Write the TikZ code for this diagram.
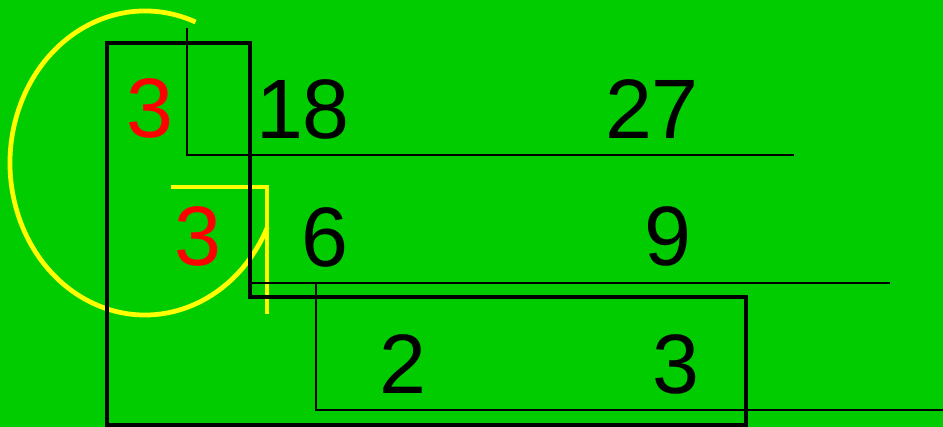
\documentclass[tikz,border=0pt]{standalone}
\usepackage{fontspec}
\setmainfont{Liberation Sans}
\usepackage{tikz}

\definecolor{boardgreen}{HTML}{00CC00}
\definecolor{markyellow}{HTML}{FFFF00}
\definecolor{factorred}{HTML}{FF0000}

\tikzset{
  digit/.style={inner sep=0pt, font=\fontsize{48}{48}\selectfont},
  factor/.style={digit, text=factorred},
  bar/.style={black, line width=1.3pt},
  frame/.style={black, line width=2.8pt, line join=miter},
  yellowline/.style={markyellow, line width=2.7pt}
}

\begin{document}
\begin{tikzpicture}[x=0.2mm,y=0.2mm]
    % Here is the green board
    \useasboundingbox (0,0) rectangle (943,-427);
    \fill[boardgreen] (0,0) rectangle (943,-427);

    % yellow ring and corner
    \draw[yellowline] (145,-163) ++(68:135 and 152) arc[start angle=68, end angle=335, x radius=135, y radius=152];
    \draw[yellowline] (171,-187) -- (267,-187) -- (267,-314);

    % thin division bars
    \draw[bar] (187,-28) -- (187,-155) -- (794,-155);
    \draw[bar] (252,-283) -- (890,-283);
    \draw[bar] (316,-283) -- (316,-410) -- (943,-410);

    % thick L frame
    \draw[frame] (107,-425) -- (107,-43) -- (250,-43) -- (250,-297)
        -- (746,-297) -- (746,-425) -- cycle;

    % using node for digits
    \node[factor] (fa) at (150,-108) {3};
    \node[digit] (na) at (303,-109) {18};
    \node[digit] (nb) at (652,-109) {27};

    \node[factor] (fb) at (198,-236) {3};
    \node[digit] (nc) at (325,-237) {6};
    \node[digit] (nd) at (668,-236) {9};

    \node[digit] (ne) at (403,-364) {2};
    \node[digit] (nf) at (676,-364) {3};
\end{tikzpicture}
\end{document}
